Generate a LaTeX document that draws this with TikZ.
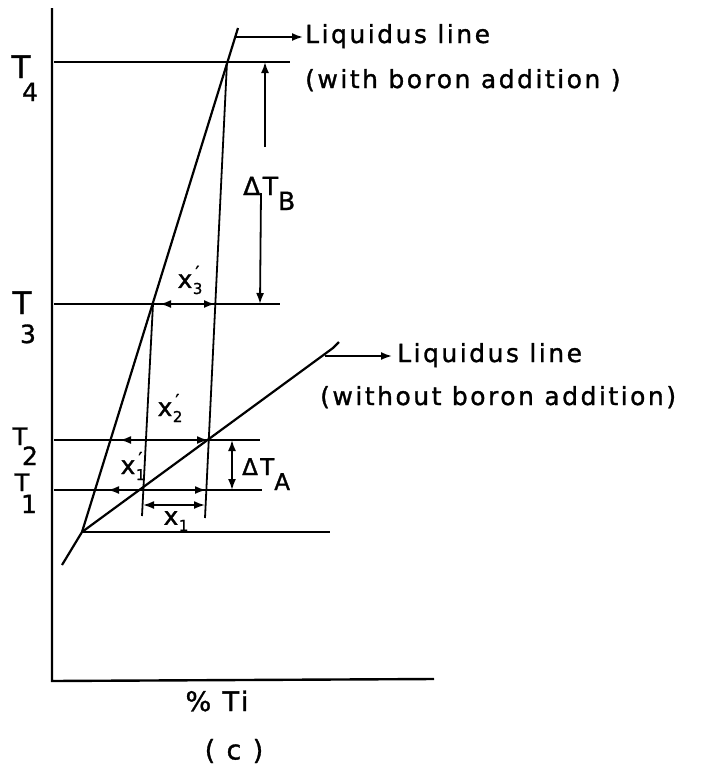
\documentclass[tikz,border=0pt]{standalone}
\usepackage{fontspec}
\newfontfamily\lettering[LetterSpace=10, FakeBold=1.2]{DejaVu Sans}
\usetikzlibrary{arrows.meta}
\newcommand\fs[1]{\fontsize{#1}{#1}\selectfont}
\newcommand\xlab[2]{x\kern0.5pt\raisebox{-6pt}{\fs{15}#1}\llap{\raisebox{9pt}{\fs{18}#2\kern3pt}}}

\begin{document}
\begin{tikzpicture}[
  x=1pt, y=-1pt, >={Latex[length=11pt, width=8pt]},
  font=\lettering\fs{25},
  every node/.style={inner sep=0pt},
  axisln/.style = {line width=2.4pt},
  isoln/.style  = {line width=2pt},
  liq/.style    = {line width=2.2pt, line join=round},
  dropln/.style = {line width=1.8pt},
  dim/.style    = {<->, line width=1.8pt},
  lead/.style   = {->, line width=1.8pt},
  tbig/.style   = {anchor=base, font=\lettering\fs{31}},
  tsml/.style   = {anchor=base, font=\lettering\fs{24}},
  tnum/.style   = {anchor=base, font=\lettering\fs{25}},
]
\useasboundingbox (0,0) rectangle (702,769);

% ── Axes ──────────────────────────────────────────────────────────────────────
\coordinate (top)  at (52,8);
\coordinate (orig) at (52,681);
\coordinate (xend) at (434,679);
\draw[axisln] (top) -- (orig) -- (xend);

% ── Isotherms ─────────────────────────────────────────────────────────────────
\foreach \n/\y/\e in {4/62/290, 3/304/280, 2/440/260, 1/490/262}{
  \coordinate (a\n) at (54,\y);
  \coordinate (b\n) at (\e,\y);
  \draw[isoln] (a\n) -- (b\n);
}
\coordinate (k)  at (82,532);
\coordinate (b0) at (330,532);
\draw[isoln] (k) -- (b0);

% ── Liquidus lines ────────────────────────────────────────────────────────────
\coordinate (stem)   at (62,565);
\coordinate (lbtop)  at (238,28);
\coordinate (latop)  at (333,348);
\coordinate (lahook) at (339,342);
\draw[liq] (stem) -- (k) -- (lbtop);
\draw[liq] (k) -- (latop) -- (lahook);

% ── Drop lines ────────────────────────────────────────────────────────────────
\coordinate (p4) at (227,62);
\coordinate (p3) at (153,304);
\coordinate (r3) at (215,304);
\coordinate (q2) at (208,440);
\coordinate (s2) at (112,440);
\coordinate (q1) at (143,490);
\coordinate (r1) at (206,490);
\coordinate (s1) at (97,490);
\coordinate (d4) at (205,518);
\coordinate (d3) at (142,516);
\draw[dropln] (p4) -- (d4);
\draw[dropln] (p3) -- (d3);

% ── Dimension arrows ──────────────────────────────────────────────────────────
\draw[dim, shorten <=7pt]  (p3) -- (r3);
\draw[dim, shorten <=8pt]  (s2) -- (q2);
\draw[dim, shorten <=11pt] (s1) -- (r1);
\coordinate (x1l) at (143,505);
\coordinate (x1r) at (205,505);
\draw[dim] (x1l) -- (x1r);

\coordinate (tbu) at (265,147);
\coordinate (tbd) at (261,193);
\coordinate (t4r) at (265,62);
\coordinate (t3r) at (260,304);
\draw[lead] (tbu) -- (t4r);
\draw[lead] (tbd) -- (t3r);
\coordinate (ta2) at (232,440);
\coordinate (ta1) at (232,490);
\draw[dim] (ta2) -- (ta1);

% ── Leaders to labels ─────────────────────────────────────────────────────────
\coordinate (lbarr) at (236,37);
\coordinate (lbtip) at (303,37);
\coordinate (laarr) at (325,356);
\coordinate (latip) at (392,356);
\draw[lead] (lbarr) -- (lbtip);
\draw[lead] (laarr) -- (latip);

% ── Labels ────────────────────────────────────────────────────────────────────
\node[anchor=base west] (liqB)  at (305,43)  {Liquidus line};
\node[anchor=base west] (liqBn) at (305,88)  {(with boron addition )};
\node[anchor=base west] (liqA)  at (397,362) {Liquidus line};
\node[anchor=base west] (liqAn) at (320,405) {(without boron addition)};

\node[tbig] (t4)  at (21,78)  {T};
\node[tnum] (t4s) at (30,101) {4};
\node[tbig] (t3)  at (22,314) {T};
\node[tnum] (t3s) at (28,343) {3};
\node[tsml] (t2)  at (20,445) {T};
\node[tnum] (t2s) at (30,465) {2};
\node[tsml] (t1)  at (22,491) {T};
\node[tnum] (t1s) at (29,513) {1};

\node (lx3)  at (190,280) {\xlab{3}{′}};
\node (lx2)  at (170,408) {\xlab{2}{′}};
\node (lx1p) at (133,466) {\xlab{1}{′}};
\node (lx1)  at (176,521) {\xlab{1}{}};

\node[anchor=base west] (dtb) at (243,195) {ΔT\raisebox{-15pt}{B}};
\node[anchor=base west, font=\lettering\fs{23}] (dta) at (242,475) {ΔT\raisebox{-15pt}{A}};

\node[font=\lettering\fs{27}] (ti)  at (217,701) {\% Ti};
\node[font=\lettering\fs{27}] (cap) at (234,751) {( c )};

\end{tikzpicture}
\end{document}
